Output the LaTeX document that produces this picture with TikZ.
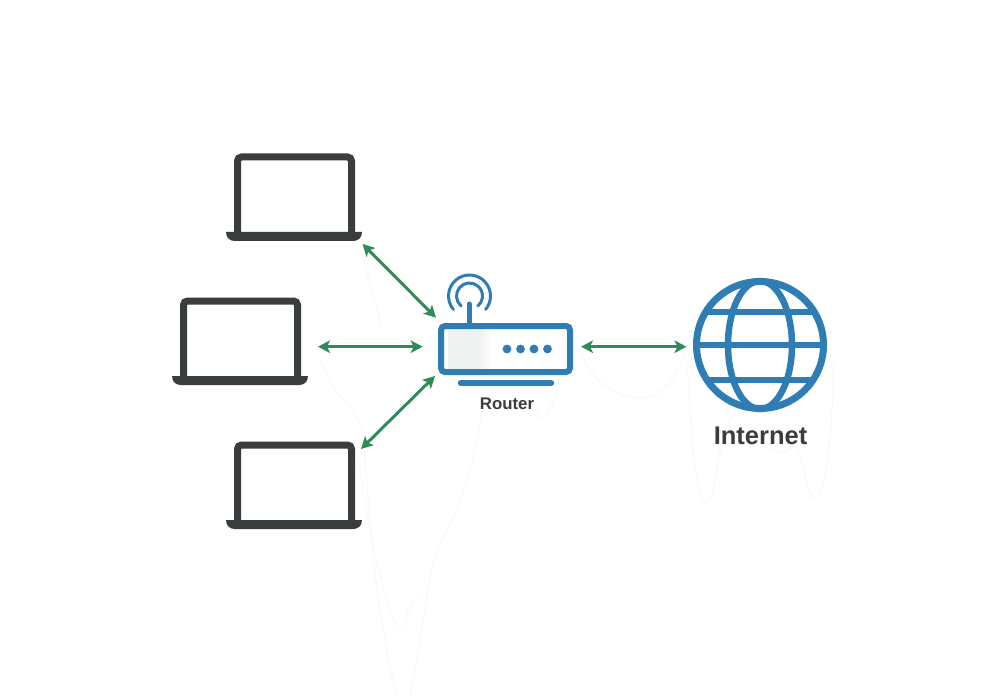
\documentclass[tikz,border=0pt]{standalone}
\usepackage{fontspec}
\setmainfont{Liberation Sans}
\usetikzlibrary{arrows.meta}
\definecolor{lapdark}{HTML}{3A3D3E}
\definecolor{netblue}{HTML}{2E7EB5}
\definecolor{linkgreen}{HTML}{2F8B57}
\definecolor{faint}{HTML}{F8F8F8}
\definecolor{patch}{HTML}{F0F1F1}
\tikzset{
  x=1pt,y=-1pt,
  screenbox/.style={draw=lapdark,line width=7pt,rounded corners=4pt,outer sep=0pt,inner sep=0pt,minimum width=114pt,minimum height=79pt},
  basebar/.style={fill=lapdark,draw=none},
  linkarrow/.style={draw=linkgreen,line width=3pt,{Stealth[length=12pt,width=12.5pt,inset=3pt]}-{Stealth[length=12pt,width=12.5pt,inset=3pt]}},
  blueline/.style={draw=netblue,line width=6.5pt},
  wave/.style={draw=netblue,line width=3pt,line cap=round},
  ghost/.style={draw=faint,line width=0.9pt},
  ledstyle/.style={fill=netblue,draw=none},
  labeltext/.style={text=lapdark,font=\bfseries,inner sep=0pt},
  pics/laptop/.style={code={
    \node[screenbox] (-screen) at (294.5,196.5) {};
    \path[basebar] (226,232) -- (362,232) .. controls (362,238) and (358,241) .. (353,241) -- (235,241) .. controls (230,241) and (226,238) .. (226,232) -- cycle;
  }}
}
\begin{document}
\begin{tikzpicture}
\useasboundingbox (0,0) rectangle (1000,700);
\fill[white] (0,0) rectangle (1000,700);
% faint background curves
\draw[ghost] (363,253) .. controls (368,280) and (376,305) .. (381,325);
\draw[ghost] (320,357) .. controls (325,375) and (335,392) .. (345,402) .. controls (355,412) and (364,425) .. (363,440) .. controls (366,470) and (370,530) .. (375,573) .. controls (382,630) and (392,680) .. (397,697);
\draw[ghost] (358,457) .. controls (366,510) and (380,590) .. (393,617) .. controls (398,632) and (404,630) .. (407,615) .. controls (410,605) and (415,598) .. (421,595);
\draw[ghost] (410,697) .. controls (418,660) and (425,600) .. (433,563) .. controls (440,540) and (452,525) .. (462,495) .. controls (470,470) and (478,440) .. (482,415);
\draw[ghost] (533,403) .. controls (536,412) and (540,420) .. (543,418) .. controls (550,412) and (555,398) .. (558,387);
\draw[ghost] (580,350) .. controls (590,380) and (615,398) .. (640,398) .. controls (662,398) and (680,375) .. (685,350);
\draw[ghost] (687,357) .. controls (690,420) and (695,503) .. (706,503) .. controls (714,503) and (716,470) .. (721,447) .. controls (725,430) and (730,420) .. (735,412);
\draw[ghost] (725,445) .. controls (750,440) and (770,450) .. (783,453) .. controls (790,450) and (792,445) .. (797,447) .. controls (805,470) and (808,498) .. (815,498) .. controls (826,498) and (834,420) .. (833,363);
% laptops
\pic (lapa) at (0,0) {laptop};
\pic (lapb) at (-54,144) {laptop};
\pic (lapc) at (0,288) {laptop};
% router
\fill[patch] (448,329) rectangle (480,369);
\shade[left color=patch,right color=white] (480,329) rectangle (491,369);
\node[draw=netblue,line width=6pt,rounded corners=4pt,outer sep=0pt,inner sep=0pt,minimum width=129pt,minimum height=46pt] (router) at (505.5,349) {};
\draw[blueline,line width=5pt,line cap=round] ([shift={(-36.5,-24)}]router.center) -- ([shift={(-36.5,-45)}]router.center);
\draw[wave] (469.5,296) +(130:13) arc[start angle=130,end angle=410,radius=13];
\draw[wave] (469.5,296) +(140:21) arc[start angle=140,end angle=400,radius=21];
\foreach \px in {507,520.5,534,547.5} \fill[ledstyle] (\px,349) circle[radius=4.4];
\draw[blueline,line cap=round] (461,383) -- (551,383);
\node[labeltext,font=\bfseries\fontsize{16.8}{20}\selectfont] (routerlabel) at (507,404) {Router};
% globe
\node[circle,draw=netblue,line width=7pt,outer sep=0pt,inner sep=0pt,minimum size=127pt] (globe) at (760,345) {};
\draw[blueline] (globe.center) ellipse[x radius=32,y radius=64];
\draw[blueline] (globe.west) -- (globe.east);
\draw[blueline] ([shift={(-53,-33)}]globe.center) -- ([shift={(53,-33)}]globe.center);
\draw[blueline] ([shift={(-53,35)}]globe.center) -- ([shift={(53,35)}]globe.center);
\node[labeltext,font=\bfseries\fontsize{25.5}{30}\selectfont] (netlabel) at (760.5,436) {Internet};
% connectors
\draw[linkarrow] ([shift={(11,8)}]lapa-screen.south east) -- ([shift={(-5,-8.3)}]router.north west);
\draw[linkarrow] ([shift={(20.5,6.2)}]lapb-screen.east) -- ([shift={(-18.3,-2.3)}]router.west);
\draw[linkarrow] ([shift={(9.5,4)}]lapc-screen.north east) -- ([shift={(-6,4)}]router.south west);
\draw[linkarrow] ([shift={(11,-2.3)}]router.east) -- ([shift={(-10,1.7)}]globe.west);
\end{tikzpicture}
\end{document}
